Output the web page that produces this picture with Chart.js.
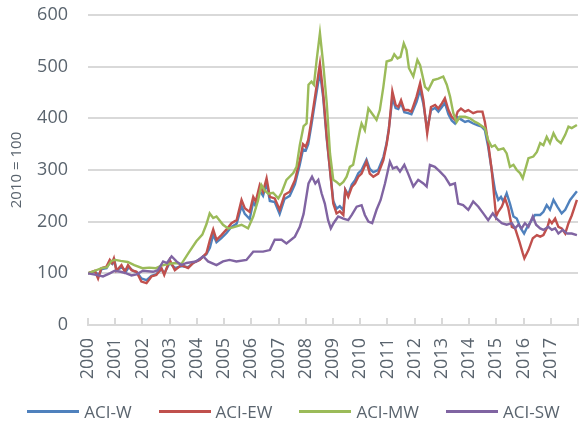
<!DOCTYPE html>
<html>
<head>
<meta charset="utf-8">
<script src="https://cdn.jsdelivr.net/npm/chart.js@4/dist/chart.umd.min.js"></script>
<style>
  html, body { margin: 0; padding: 0; background: #fff; }
  #wrap { position: relative; width: 587px; height: 429px; }
  #legend {
    position: absolute; left: 0; top: 401px; width: 587px; height: 20px;
    display: flex; justify-content: center; align-items: center; gap: 27px;
    font: 17px 'Open Sans', sans-serif; color: #5a646e;
  }
  #legend .item { display: flex; align-items: center; white-space: nowrap; }
  #legend .swatch { display: inline-block; width: 52px; height: 3px; margin-right: 5px; }
</style>
</head>
<body>
<div id="wrap">
  <canvas id="aciChart"></canvas>
  <div id="legend"></div>
</div>
<script>
// [year, index value], 2010 = 100
const aciW = [
  [2000.0, 100], [2000.25, 103], [2000.4, 97], [2000.5, 108], [2000.68, 110], [2000.8, 122], [2000.9, 118], [2000.97, 125],
  [2001.05, 106], [2001.25, 112], [2001.4, 104], [2001.5, 112], [2001.65, 105], [2001.8, 102], [2001.96, 90],
  [2002.15, 87], [2002.33, 95], [2002.5, 98], [2002.7, 108], [2002.8, 100], [2003.0, 120], [2003.2, 110],
  [2003.43, 114], [2003.68, 112], [2003.86, 120], [2004.1, 127], [2004.35, 137], [2004.48, 150], [2004.6, 175],
  [2004.72, 160], [2004.9, 168], [2005.09, 178], [2005.27, 190], [2005.46, 196], [2005.64, 230], [2005.76, 215],
  [2005.94, 205], [2006.07, 238], [2006.16, 230], [2006.31, 260], [2006.43, 250], [2006.56, 275], [2006.68, 240],
  [2006.86, 238], [2007.04, 215], [2007.22, 244], [2007.41, 250], [2007.6, 272], [2007.78, 310], [2007.9, 340],
  [2008.0, 338], [2008.09, 350], [2008.21, 388], [2008.34, 432], [2008.52, 490], [2008.64, 440], [2008.77, 360],
  [2008.89, 300], [2009.01, 240], [2009.13, 225], [2009.25, 230], [2009.38, 222], [2009.45, 262], [2009.56, 252],
  [2009.69, 272], [2009.81, 280], [2009.93, 294], [2010.05, 300], [2010.23, 320], [2010.35, 302], [2010.48, 296],
  [2010.66, 300], [2010.85, 325], [2010.97, 352], [2011.05, 380], [2011.12, 410], [2011.18, 440], [2011.3, 420],
  [2011.4, 418], [2011.5, 430], [2011.62, 412], [2011.76, 410], [2011.88, 408], [2012.07, 432], [2012.2, 455],
  [2012.32, 428], [2012.46, 378], [2012.6, 416], [2012.75, 420], [2012.87, 413], [2013.0, 422], [2013.11, 430],
  [2013.24, 408], [2013.36, 396], [2013.48, 390], [2013.58, 402], [2013.7, 398], [2013.85, 393], [2013.97, 395],
  [2014.15, 390], [2014.3, 387], [2014.46, 384], [2014.58, 377], [2014.7, 345], [2014.83, 300], [2014.95, 261],
  [2015.07, 242], [2015.17, 248], [2015.26, 239], [2015.38, 255], [2015.5, 235], [2015.63, 210], [2015.75, 206],
  [2015.9, 187], [2016.02, 177], [2016.14, 190], [2016.3, 203], [2016.42, 213], [2016.61, 213], [2016.73, 219],
  [2016.85, 232], [2016.97, 223], [2017.1, 242], [2017.24, 229], [2017.4, 216], [2017.53, 223], [2017.71, 242],
  [2017.96, 259]
];

const aciEW = [
  [2000.0, 100], [2000.25, 105], [2000.37, 90], [2000.49, 110], [2000.68, 113], [2000.8, 126], [2000.88, 120], [2000.95, 129],
  [2001.04, 105], [2001.23, 116], [2001.35, 103], [2001.47, 116], [2001.6, 106], [2001.78, 103], [2001.96, 84],
  [2002.15, 81], [2002.33, 94], [2002.51, 97], [2002.7, 110], [2002.8, 97], [2003.0, 126], [2003.19, 106],
  [2003.43, 116], [2003.68, 110], [2003.86, 120], [2004.1, 126], [2004.35, 139], [2004.48, 165], [2004.6, 185],
  [2004.72, 165], [2004.9, 174], [2005.09, 185], [2005.27, 197], [2005.46, 203], [2005.64, 242], [2005.76, 226],
  [2005.94, 219], [2006.07, 248], [2006.16, 239], [2006.31, 271], [2006.43, 258], [2006.56, 284], [2006.68, 248],
  [2006.86, 245], [2007.04, 223], [2007.22, 252], [2007.41, 258], [2007.6, 280], [2007.78, 319], [2007.9, 350],
  [2008.0, 345], [2008.09, 358], [2008.21, 397], [2008.34, 442], [2008.52, 506], [2008.64, 448], [2008.77, 364],
  [2008.89, 300], [2009.01, 235], [2009.13, 216], [2009.25, 220], [2009.38, 213], [2009.45, 261], [2009.56, 248],
  [2009.69, 267], [2009.81, 274], [2009.93, 287], [2010.05, 293], [2010.23, 316], [2010.35, 293], [2010.48, 287],
  [2010.66, 293], [2010.85, 319], [2010.97, 350], [2011.05, 377], [2011.12, 416], [2011.18, 452], [2011.3, 426],
  [2011.4, 422], [2011.5, 435], [2011.62, 416], [2011.76, 416], [2011.88, 413], [2012.07, 442], [2012.2, 468],
  [2012.32, 435], [2012.46, 371], [2012.6, 422], [2012.75, 426], [2012.87, 419], [2013.0, 429], [2013.11, 439],
  [2013.24, 416], [2013.36, 403], [2013.48, 397], [2013.58, 413], [2013.7, 419], [2013.85, 413], [2013.97, 416],
  [2014.15, 410], [2014.3, 413], [2014.49, 413], [2014.58, 393], [2014.7, 352], [2014.83, 300], [2014.91, 255],
  [2014.99, 210], [2015.07, 219], [2015.2, 229], [2015.32, 245], [2015.44, 226], [2015.57, 190], [2015.69, 187],
  [2015.85, 161], [2015.97, 139], [2016.03, 129], [2016.18, 145], [2016.34, 168], [2016.49, 174], [2016.61, 171],
  [2016.73, 174], [2016.88, 190], [2016.95, 203], [2017.04, 197], [2017.16, 206], [2017.28, 190], [2017.4, 187],
  [2017.53, 177], [2017.65, 197], [2017.77, 212], [2017.96, 242]
];

const aciMW = [
  [2000.0, 100], [2000.25, 105], [2000.5, 110], [2000.7, 112], [2000.86, 124], [2001.0, 126], [2001.2, 124],
  [2001.46, 122], [2001.7, 116], [2002.0, 110], [2002.25, 111], [2002.5, 110], [2002.7, 115], [2002.93, 118],
  [2003.2, 120], [2003.43, 118], [2003.7, 140], [2003.98, 162], [2004.2, 175], [2004.35, 195], [2004.47, 216],
  [2004.6, 207], [2004.72, 210], [2004.96, 194], [2005.15, 187], [2005.33, 189], [2005.64, 194], [2005.88, 187],
  [2006.07, 210], [2006.25, 242], [2006.37, 271], [2006.5, 260], [2006.62, 254], [2006.8, 256], [2006.99, 245],
  [2007.11, 256], [2007.29, 281], [2007.54, 294], [2007.66, 306], [2007.78, 348], [2007.92, 385], [2008.03, 390],
  [2008.1, 465], [2008.21, 471], [2008.3, 465], [2008.4, 513], [2008.52, 565], [2008.64, 506], [2008.77, 429],
  [2008.89, 332], [2009.01, 281], [2009.13, 277], [2009.25, 271], [2009.38, 277], [2009.5, 287], [2009.62, 306],
  [2009.74, 310], [2009.87, 345], [2009.99, 377], [2010.05, 390], [2010.17, 377], [2010.3, 419], [2010.48, 406],
  [2010.6, 397], [2010.72, 416], [2010.85, 461], [2010.97, 510], [2011.15, 513], [2011.25, 524], [2011.37, 516],
  [2011.48, 519], [2011.6, 545], [2011.7, 532], [2011.79, 497], [2011.95, 481], [2012.1, 513], [2012.2, 503],
  [2012.38, 461], [2012.5, 455], [2012.68, 474], [2012.87, 477], [2013.05, 481], [2013.18, 465], [2013.3, 442],
  [2013.42, 410], [2013.54, 393], [2013.66, 403], [2013.85, 403], [2014.03, 400], [2014.22, 393], [2014.34, 390],
  [2014.58, 381], [2014.7, 358], [2014.83, 345], [2014.95, 348], [2015.07, 339], [2015.26, 342], [2015.38, 332],
  [2015.5, 306], [2015.63, 310], [2015.75, 300], [2015.87, 294], [2015.97, 284], [2016.09, 306], [2016.18, 323],
  [2016.36, 326], [2016.49, 335], [2016.61, 352], [2016.73, 348], [2016.85, 364], [2016.97, 352], [2017.1, 371],
  [2017.23, 358], [2017.37, 352], [2017.53, 368], [2017.65, 384], [2017.77, 381], [2017.96, 387]
];

const aciSW = [
  [2000.0, 100], [2000.3, 97], [2000.55, 94], [2000.8, 100], [2000.98, 105], [2001.2, 103], [2001.41, 100],
  [2001.6, 96], [2001.78, 98], [2002.02, 105], [2002.39, 103], [2002.57, 106], [2002.76, 123], [2002.9, 120],
  [2003.07, 133], [2003.25, 123], [2003.43, 116], [2003.62, 120], [2003.98, 123], [2004.23, 133], [2004.41, 123],
  [2004.72, 116], [2004.96, 123], [2005.2, 126], [2005.45, 123], [2005.82, 126], [2006.07, 142], [2006.43, 142],
  [2006.68, 145], [2006.86, 165], [2007.11, 165], [2007.29, 158], [2007.6, 171], [2007.78, 190], [2007.92, 215],
  [2008.1, 274], [2008.23, 287], [2008.35, 274], [2008.46, 281], [2008.58, 255], [2008.7, 235], [2008.82, 203],
  [2008.92, 187], [2009.02, 197], [2009.19, 210], [2009.38, 206], [2009.56, 203], [2009.69, 213], [2009.87, 229],
  [2010.05, 232], [2010.17, 213], [2010.3, 200], [2010.44, 197], [2010.6, 223], [2010.75, 242], [2010.91, 274],
  [2011.09, 316], [2011.2, 303], [2011.34, 306], [2011.46, 297], [2011.62, 310], [2011.76, 293], [2011.95, 268],
  [2012.13, 281], [2012.32, 274], [2012.44, 268], [2012.56, 310], [2012.74, 306], [2012.93, 297], [2013.11, 287],
  [2013.3, 271], [2013.48, 274], [2013.6, 235], [2013.78, 232], [2013.97, 223], [2014.15, 239], [2014.34, 229],
  [2014.52, 216], [2014.7, 203], [2014.87, 216], [2015.01, 206], [2015.2, 197], [2015.38, 194], [2015.57, 197],
  [2015.69, 187], [2015.81, 194], [2015.93, 187], [2016.05, 197], [2016.18, 190], [2016.34, 210], [2016.46, 194],
  [2016.61, 187], [2016.73, 184], [2016.91, 190], [2017.04, 184], [2017.16, 187], [2017.28, 177], [2017.44, 184],
  [2017.6, 177], [2017.77, 177], [2017.96, 174]
];

const seriesNames = ['ACI-W', 'ACI-EW', 'ACI-MW', 'ACI-SW'];
const seriesColors = ['#4f81bd', '#c0504d', '#9bbb59', '#8064a2'];
const firstYear = 2000;
const lastYear = 2018;
const yTitle = '2010 = 100';

const TXT = '#5a646e';
const GRID = '#d9d9d9';
const FONT = "'Open Sans', sans-serif";

function toXY(rows) {
  return rows.map(([x, y]) => ({ x, y }));
}

function lineSeries(i, rows) {
  return {
    label: seriesNames[i],
    data: toXY(rows),
    borderColor: seriesColors[i],
    backgroundColor: seriesColors[i],
    borderWidth: 2.4,
    pointRadius: 0,
    tension: 0,
    order: 4 - i, // later series drawn on top, as in the original
  };
}

// short tick marks pointing up into the plot, like the original
const innerTicks = {
  id: 'innerTicks',
  afterDatasetsDraw(chart) {
    const x = chart.scales.x;
    const ctx = chart.ctx;
    ctx.save();
    ctx.strokeStyle = GRID;
    ctx.lineWidth = 2;
    x.ticks.forEach((t) => {
      const px = Math.round(x.getPixelForValue(t.value));
      ctx.beginPath();
      ctx.moveTo(px, x.top);
      ctx.lineTo(px, x.top - 7);
      ctx.stroke();
    });
    ctx.restore();
  },
};

const datasets = [aciW, aciEW, aciMW, aciSW].map((rows, i) => lineSeries(i, rows));

new Chart(document.getElementById('aciChart').getContext('2d'), {
  type: 'line',
  data: { datasets },
  options: {
    responsive: true,
    maintainAspectRatio: false,
    animation: false,
    layout: { padding: { top: 15, right: 9, bottom: 48, left: 0 } },
    plugins: {
      tooltip: { enabled: false },
      legend: { display: false },
    },
    scales: {
      x: {
        type: 'linear',
        min: firstYear,
        max: lastYear,
        grid: { drawOnChartArea: false, drawTicks: false, color: GRID },
        border: { color: GRID, width: 2 },
        ticks: {
          stepSize: 1,
          minRotation: 90,
          maxRotation: 90,
          padding: 13,
          color: TXT,
          font: { family: FONT, size: 18 },
          callback: (v) => (v >= lastYear ? '' : String(v)),
        },
        afterFit: (scale) => {
          scale.height = 56;
          scale.paddingLeft = 0;
          scale.paddingRight = 0;
        },
      },
      y: {
        min: 0,
        max: 600,
        grid: { color: GRID, lineWidth: 2, drawTicks: false },
        border: { display: false },
        ticks: {
          stepSize: 100,
          padding: 20,
          color: TXT,
          font: { family: FONT, size: 18 },
        },
        title: {
          display: true,
          text: yTitle,
          color: TXT,
          font: { family: FONT, size: 15 },
          padding: { top: 8, bottom: 0 },
        },
        afterFit: (scale) => {
          scale.width = 88;
          scale.paddingTop = 0;
          scale.paddingBottom = 0;
        },
      },
    },
  },
  plugins: [innerTicks],
});

// legend as plain text under the chart
const legendEl = document.getElementById('legend');
datasets.forEach((ds) => {
  const item = document.createElement('span');
  item.className = 'item';
  const sw = document.createElement('span');
  sw.className = 'swatch';
  sw.style.background = ds.borderColor;
  item.appendChild(sw);
  item.appendChild(document.createTextNode(ds.label));
  legendEl.appendChild(item);
});
</script>
</body>
</html>
